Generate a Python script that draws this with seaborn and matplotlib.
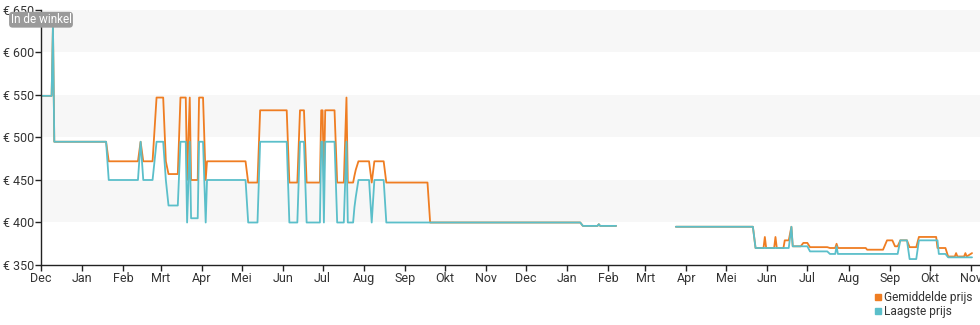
import numpy as np
import pandas as pd
import matplotlib
matplotlib.use("Agg")
import matplotlib.pyplot as plt
import matplotlib.dates as mdates
from matplotlib.lines import Line2D
import seaborn as sns

# ---- data ----
dates = [
    "2021-12-01", "2021-12-09", "2021-12-10", "2021-12-11", "2022-01-19", "2022-01-21",
    "2022-02-12", "2022-02-14", "2022-02-16", "2022-02-23", "2022-02-26", "2022-03-03",
    "2022-03-05", "2022-03-07", "2022-03-14", "2022-03-16", "2022-03-20", "2022-03-21",
    "2022-03-23", "2022-03-24", "2022-03-29", "2022-03-30", "2022-04-02", "2022-04-04",
    "2022-04-05", "2022-05-04", "2022-05-06", "2022-05-13", "2022-05-15", "2022-06-04",
    "2022-06-06", "2022-06-12", "2022-06-14", "2022-06-17", "2022-06-19", "2022-06-29",
    "2022-06-30", "2022-07-01", "2022-07-02", "2022-07-03", "2022-07-10", "2022-07-12",
    "2022-07-17", "2022-07-19", "2022-07-20", "2022-07-24", "2022-07-25", "2022-07-26",
    "2022-07-28", "2022-08-05", "2022-08-07", "2022-08-09", "2022-08-16", "2022-08-18",
    "2022-09-18", "2022-09-20", "2023-01-11", "2023-01-13", "2023-01-24", "2023-01-25",
    "2023-01-26", "2023-02-07", "2023-02-20",
    "2023-03-24", "2023-05-21", "2023-05-23", "2023-05-29", "2023-05-30", "2023-05-31",
    "2023-06-06", "2023-06-07", "2023-06-08", "2023-06-13", "2023-06-14", "2023-06-17",
    "2023-06-19", "2023-06-20", "2023-06-26", "2023-06-28", "2023-07-01", "2023-07-03",
    "2023-07-16", "2023-07-18", "2023-07-22", "2023-07-23", "2023-07-24", "2023-08-14",
    "2023-08-15", "2023-08-27", "2023-08-30", "2023-09-03", "2023-09-05", "2023-09-07",
    "2023-09-09", "2023-09-14", "2023-09-16", "2023-09-21", "2023-09-23", "2023-10-06",
    "2023-10-07", "2023-10-08", "2023-10-13", "2023-10-15", "2023-10-20", "2023-10-21",
    "2023-10-22", "2023-10-27", "2023-10-28", "2023-10-29", "2023-11-02",
]
avg_price = [
    549, 549, 632, 495, 495, 472,
    472, 495, 472, 472, 547, 547,
    472, 457, 457, 547, 547, 450,
    547, 450, 450, 547, 547, 450,
    472, 472, 447, 447, 532, 532,
    447, 447, 532, 532, 447, 447,
    532, 532, 447, 532, 532, 447,
    447, 547, 447, 447, 455, 462,
    472, 472, 447, 472, 472, 447,
    447, 400, 400, 396, 396, 398,
    396, 396, np.nan,
    395, 395, 370, 370, 383, 370,
    370, 383, 370, 370, 379, 379,
    395, 372, 372, 376, 376, 371,
    371, 370, 370, 375, 370, 370,
    368, 368, 379, 379, 372, 372,
    379, 379, 371, 371, 383, 383,
    370, 370, 370, 360, 360, 364,
    360, 360, 364, 360, 364,
]
low_price = [
    549, 549, 632, 495, 495, 450,
    450, 495, 450, 450, 495, 495,
    450, 420, 420, 495, 495, 400,
    495, 405, 405, 495, 495, 400,
    450, 450, 400, 400, 495, 495,
    400, 400, 495, 495, 400, 400,
    495, 495, 400, 495, 495, 400,
    400, 495, 400, 400, 418, 430,
    450, 450, 400, 450, 450, 400,
    400, 400, 400, 396, 396, 398,
    396, 396, np.nan,
    395, 395, 370, 370, 370, 370,
    370, 370, 370, 370, 370, 370,
    395, 372, 372, 372, 372, 366,
    366, 363, 363, 372, 363, 363,
    363, 363, 363, 363, 363, 363,
    379, 379, 357, 357, 379, 379,
    379, 363, 363, 359, 359, 359,
    359, 359, 359, 359, 359,
]
series_names = ["Gemiddelde prijs", "Laagste prijs"]
series_colors = ["#ef7d22", "#5bbfca"]
month_labels = ["Dec", "Jan", "Feb", "Mrt", "Apr", "Mei", "Jun", "Jul", "Aug", "Sep", "Okt", "Nov",
                "Dec", "Jan", "Feb", "Mrt", "Apr", "Mei", "Jun", "Jul", "Aug", "Sep", "Okt", "Nov"]
y_ticks = [350, 400, 450, 500, 550, 600, 650]
store_label = "In de winkel"

# ---- build long table ----
wide = pd.DataFrame({"date": pd.to_datetime(dates),
                     series_names[0]: avg_price,
                     series_names[1]: low_price})
wide["segment"] = wide[series_names[0]].isna().cumsum()
long = wide.melt(id_vars=["date", "segment"], var_name="serie", value_name="prijs").dropna()

sns.set_theme(style="white")
plt.rcParams["font.family"] = ["Roboto", "DejaVu Sans"]

fig = plt.figure(figsize=(9.8, 3.25), dpi=100)
ax = fig.add_axes([41 / 980, 1 - 265 / 325, 1 - 41 / 980, 255 / 325])

# alternating bands
for lo in (400, 500, 600):
    ax.axhspan(lo, lo + 50, color="#f7f7f7", lw=0, zorder=0)

sns.lineplot(data=long, x="date", y="prijs", hue="serie", units="segment", estimator=None,
             hue_order=series_names, palette=series_colors, linewidth=1.3,
             legend=False, ax=ax, zorder=2)

ax.set_xlim(pd.Timestamp("2021-12-01"), pd.Timestamp("2023-11-08"))
ax.set_ylim(350, 650)
month_starts = pd.date_range("2021-12-01", periods=len(month_labels), freq="MS")
ax.set_xticks(month_starts)
ax.set_xticklabels(month_labels)
ax.set_yticks(y_ticks)
ax.set_yticklabels([f"€ {v}" for v in y_ticks])
ax.set_xlabel("")
ax.set_ylabel("")
ax.grid(False)

for s in ("top", "right"):
    ax.spines[s].set_visible(False)
for s in ("left", "bottom"):
    ax.spines[s].set_color("#222222")
    ax.spines[s].set_linewidth(1.0)
ax.tick_params(axis="both", which="major", length=4, width=1, color="#222222",
               labelsize=9, labelcolor="#333333", pad=1, bottom=True, left=True)

# "In de winkel" tag
ax.annotate(store_label, xy=(0, 1), xycoords="axes fraction", xytext=(0, -7),
            textcoords="offset points", ha="center", va="center", fontsize=8.5, color="white",
            bbox=dict(boxstyle="round,pad=0.12,rounding_size=0.3", fc="#9a9a9a", ec="none"),
            zorder=5, annotation_clip=False)

handles = [Line2D([], [], marker="s", linestyle="none", markersize=5, color=c) for c in series_colors]
fig.legend(handles, series_names, loc="upper left", bbox_to_anchor=(874 / 980, 1 - 291 / 325),
           frameon=False, fontsize=8.6, handlelength=0.6, handletextpad=0.2, labelspacing=0.1,
           borderpad=0, borderaxespad=0, labelcolor="#333333")

fig.savefig("out.png", dpi=100)
